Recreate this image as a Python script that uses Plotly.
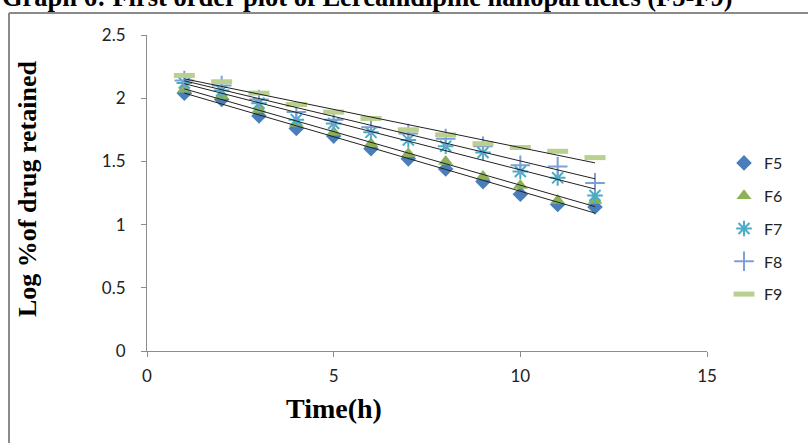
import numpy as np
import plotly.graph_objects as go

time_h = [1, 2, 3, 4, 5, 6, 7, 8, 9, 10, 11, 12]
F5 = [2.04, 1.99, 1.86, 1.76, 1.70, 1.60, 1.52, 1.44, 1.34, 1.24, 1.16, 1.14]
F6 = [2.07, 2.02, 1.91, 1.80, 1.73, 1.64, 1.56, 1.50, 1.38, 1.31, 1.19, 1.19]
F7 = [2.12, 2.06, 1.96, 1.83, 1.80, 1.73, 1.67, 1.62, 1.57, 1.42, 1.37, 1.23]
F8 = [2.14, 2.10, 1.99, 1.89, 1.83, 1.77, 1.72, 1.68, 1.62, 1.47, 1.46, 1.33]
F9 = [2.18, 2.13, 2.04, 1.95, 1.89, 1.84, 1.75, 1.71, 1.64, 1.61, 1.58, 1.53]

series_names = ["F5", "F6", "F7", "F8", "F9"]
series_vals = [F5, F6, F7, F8, F9]
colors = ["#4A7EBB", "#8DB255", "#4BACC6", "#7E9FD6", "#B9D08F"]
symbols = ["diamond", "triangle-up", "asterisk-open", "cross-thin-open", "line-ew-open"]
sizes = [12, 13, 13, 14, 15]
line_w = [0, 0, 2, 2, 5]

x_ticks = [0, 5, 10, 15]
y_ticks = [0, 0.5, 1, 1.5, 2, 2.5]
y_tick_text = ["0", "0.5", "1", "1.5", "2", "2.5"]

fig = go.Figure()
for i, (name, vals) in enumerate(zip(series_names, series_vals)):
    marker = dict(symbol=symbols[i], size=sizes[i], color=colors[i])
    if line_w[i] > 0:
        marker["line"] = dict(color=colors[i], width=line_w[i])
    fig.add_trace(go.Scatter(x=time_h, y=vals, mode="markers", name=name,
                             marker=marker, legendgroup=name))

# linear trendlines
for name, vals in zip(series_names, series_vals):
    m, c = np.polyfit(time_h, vals, 1)
    xs = [time_h[0], time_h[-1]]
    fig.add_trace(go.Scatter(x=xs, y=[m * xv + c for xv in xs], mode="lines",
                             line=dict(color="#222222", width=1),
                             showlegend=False, hoverinfo="skip"))

L, R, T, B = 147, 101, 35, 92
W, H = 808, 443
pw, ph = W - L - R, H - T - B

def px_to_paper_x(px):
    return (px - L) / pw

def px_to_paper_y(py):
    return (H - B - py) / ph

fig.update_layout(
    width=W, height=H,
    margin=dict(l=L, r=R, t=T, b=B, autoexpand=False),
    plot_bgcolor="white", paper_bgcolor="white",
    font=dict(family="Lato", size=16, color="#222222"),
    showlegend=True,
    legend=dict(x=px_to_paper_x(724), y=px_to_paper_y(146), xanchor="left", yanchor="top",
                font=dict(family="Lato", size=16, color="#222222"),
                traceorder="grouped", tracegroupgap=9, bgcolor="rgba(0,0,0,0)"),
    xaxis=dict(range=[0, 15], tickvals=x_ticks, showgrid=False, zeroline=False,
               showline=True, linecolor="#8c8c8c", linewidth=1,
               ticks="outside", ticklen=5, tickcolor="#8c8c8c",
               ticklabelstandoff=5, tickfont=dict(family="Lato", size=17)),
    yaxis=dict(range=[0, 2.5], tickvals=y_ticks, ticktext=y_tick_text, showgrid=False,
               zeroline=False, showline=True, linecolor="#8c8c8c", linewidth=1,
               ticks="outside", ticklen=5, tickcolor="#8c8c8c",
               ticklabelstandoff=12, tickfont=dict(family="Lato", size=17)),
    annotations=[
        dict(text="<b>Graph 6: First order plot of Lercanidipine nanoparticles (F5-F9)</b>",
             xref="paper", yref="paper", x=px_to_paper_x(0), y=px_to_paper_y(-3),
             xanchor="left", yanchor="middle", showarrow=False,
             font=dict(family="Liberation Serif", size=26.5, color="black")),
        dict(text="<b>Time(h)</b>", xref="paper", yref="paper",
             x=px_to_paper_x(334), y=px_to_paper_y(408), xanchor="center", yanchor="middle",
             showarrow=False, font=dict(family="Liberation Serif", size=28, color="black")),
        dict(text="<b>Log %of drug retained</b>", xref="paper", yref="paper",
             x=px_to_paper_x(27), y=px_to_paper_y(189), xanchor="center", yanchor="middle",
             textangle=-90, showarrow=False,
             font=dict(family="Liberation Serif", size=26, color="black")),
    ],
    shapes=[
        dict(type="line", xref="paper", yref="paper",
             x0=px_to_paper_x(9), x1=px_to_paper_x(812), y0=px_to_paper_y(13), y1=px_to_paper_y(13),
             line=dict(color="#8a8a8a", width=2)),
        dict(type="line", xref="paper", yref="paper",
             x0=px_to_paper_x(9), x1=px_to_paper_x(9), y0=px_to_paper_y(13), y1=px_to_paper_y(450),
             line=dict(color="#8a8a8a", width=2)),
    ],
)

fig.write_html("out.html", config={"displayModeBar": False},
               post_script="document.body.style.margin='0';document.body.style.overflow='hidden';")
